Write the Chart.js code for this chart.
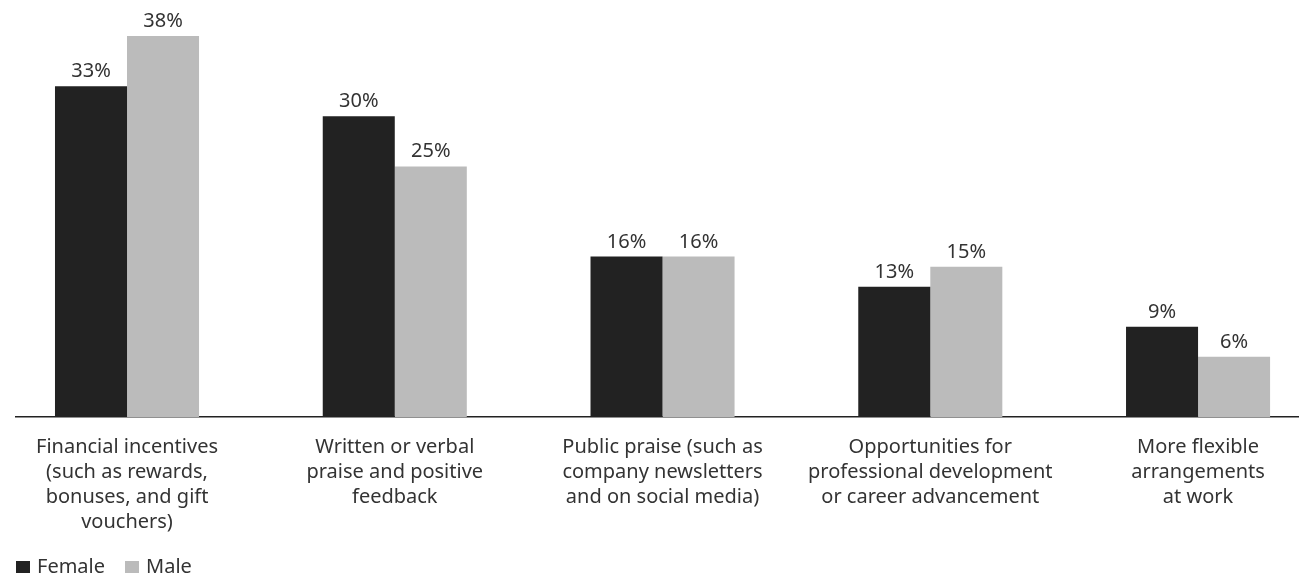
<!DOCTYPE html>
<html>
<head>
<meta charset="utf-8">
<script src="https://cdn.jsdelivr.net/npm/chart.js@4/dist/chart.umd.min.js"></script>
<style>
  html, body { margin: 0; padding: 0; background: #fff; overflow: hidden; }
  #wrap { width: 1299px; height: 578px; position: relative; }
  #legend { position: absolute; left: 16px; top: 554px; margin: 0; padding: 0; list-style: none;
            font: 20px/24px 'Noto Sans', 'Open Sans', sans-serif; color: #333; white-space: nowrap; }
  #legend li { display: inline-block; margin-right: 20px; }
  #legend .box { display: inline-block; width: 14px; height: 12px; margin-right: 7px; }
</style>
</head>
<body>
<div id="wrap"><canvas id="rewardChart"></canvas><ul id="legend"></ul></div>
<script>
const categories = [
    ["Financial incentives", "(such as rewards,", "bonuses, and gift", "vouchers)"],
    ["Written or verbal", "praise and positive", "feedback"],
    ["Public praise (such as", "company newsletters", "and on social media)"],
    ["Opportunities for", "professional development", "or career advancement"],
    ["More flexible", "arrangements", "at work"]
];
const female = [33, 30, 16, 13, 9];
const male = [38, 25, 16, 15, 6];

const FONT = "'Noto Sans', 'Open Sans', sans-serif";
const TEXT = "#333333";

// value labels drawn above every bar
const barLabels = {
    id: "barLabels",
    afterDatasetsDraw(chart) {
        const ctx = chart.ctx;
        ctx.save();
        ctx.font = "20px " + FONT;
        ctx.fillStyle = TEXT;
        ctx.textAlign = "center";
        ctx.textBaseline = "alphabetic";
        chart.data.datasets.forEach((ds, i) => {
            chart.getDatasetMeta(i).data.forEach((bar, j) => {
                ctx.fillText(ds.data[j].y + "%", bar.x, bar.y - 9);
            });
        });
        ctx.restore();
    }
};

// legend as a plain list under the canvas
const htmlLegend = {
    id: "htmlLegend",
    afterUpdate(chart) {
        const ul = document.getElementById("legend");
        ul.innerHTML = "";
        chart.options.plugins.legend.labels.generateLabels(chart).forEach(item => {
            const li = document.createElement("li");
            const box = document.createElement("span");
            box.className = "box";
            box.style.background = item.fillStyle;
            li.appendChild(box);
            li.appendChild(document.createTextNode(item.text));
            ul.appendChild(li);
        });
    }
};

function toPoints(values) {
    return values.map((v, i) => ({x: i, y: v}));
}

new Chart(document.getElementById("rewardChart"), {
    type: "bar",
    data: {
        datasets: [
            {label: "Female", data: toPoints(female), backgroundColor: "#222222"},
            {label: "Male", data: toPoints(male), backgroundColor: "#bbbbbb"}
        ]
    },
    options: {
        responsive: true,
        maintainAspectRatio: false,
        animation: false,
        layout: {padding: {left: 16, right: 0, top: 16, bottom: 25}},
        datasets: {bar: {categoryPercentage: 0.538, barPercentage: 1.0}},
        scales: {
            x: {
                type: "linear",
                offset: false,
                min: -0.4146,
                max: 4.377,
                afterBuildTicks: s => { s.ticks = categories.map((c, i) => ({value: i})); },
                grid: {display: false, drawTicks: false},
                border: {display: true, color: "#222222", width: 1.5},
                ticks: {
                    autoSkip: false,
                    maxRotation: 0,
                    padding: 18,
                    color: TEXT,
                    font: {family: FONT, size: 20, lineHeight: 1.25},
                    callback: v => categories[v]
                }
            },
            y: {
                display: false,
                min: 0,
                max: 40
            }
        },
        plugins: {
            legend: {display: false},
            tooltip: {enabled: false}
        }
    },
    plugins: [barLabels, htmlLegend]
});
</script>
</body>
</html>
